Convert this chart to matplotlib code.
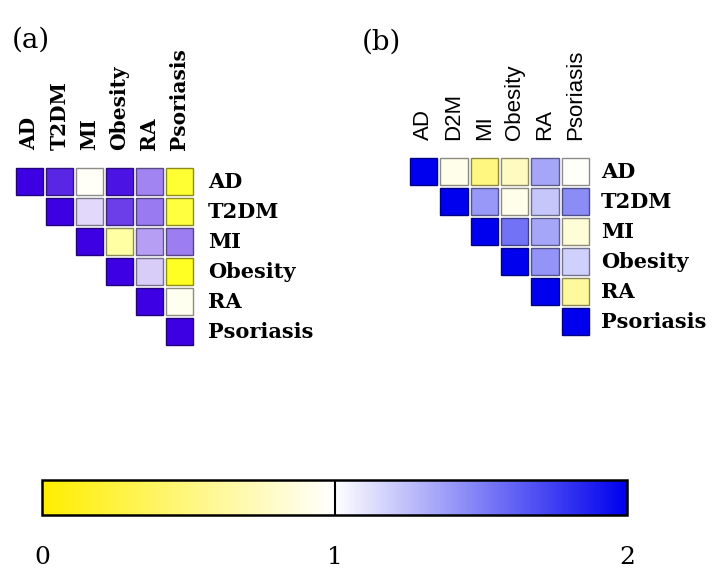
import numpy as np
import matplotlib
matplotlib.use('Agg')
import matplotlib.pyplot as plt
from matplotlib.colors import LinearSegmentedColormap, Normalize, to_rgb
from matplotlib.patches import Rectangle

nan = np.nan

# disease labels
rows_a = ['AD', 'T2DM', 'MI', 'Obesity', 'RA', 'Psoriasis']
cols_a = ['AD', 'T2DM', 'MI', 'Obesity', 'RA', 'Psoriasis']
rows_b = ['AD', 'T2DM', 'MI', 'Obesity', 'RA', 'Psoriasis']
cols_b = ['AD', 'D2M', 'MI', 'Obesity', 'RA', 'Psoriasis']

# upper triangle values (0..2 scale)
vals_a = [
    [2.00, 1.85, 0.97, 1.92, 1.48, 0.15],
    [nan, 2.00, 1.15, 1.75, 1.52, 0.20],
    [nan, nan, 2.00, 0.62, 1.38, 1.50],
    [nan, nan, nan, 2.00, 1.20, 0.08],
    [nan, nan, nan, nan, 2.00, 0.93],
    [nan, nan, nan, nan, nan, 2.00],
]
vals_b = [
    [2.00, 0.92, 0.50, 0.75, 1.35, 0.98],
    [nan, 2.00, 1.40, 0.92, 1.22, 1.45],
    [nan, nan, 2.00, 1.55, 1.35, 0.85],
    [nan, nan, nan, 2.00, 1.42, 1.18],
    [nan, nan, nan, nan, 2.00, 0.62],
    [nan, nan, nan, nan, nan, 2.00],
]
cbar_ticks = [0, 1, 2]

cmap_a = LinearSegmentedColormap.from_list('ya', ['#ffff10', '#ffffff', '#3c00e2'])
cmap_b = LinearSegmentedColormap.from_list('yb', ['#ffee00', '#ffffff', '#0000ee'])
norm = Normalize(0, 2)

W, H = 720, 578
fig = plt.figure(figsize=(W / 100, H / 100), dpi=100)


def px_axes(left, top, width, height):
    return fig.add_axes([left / W, 1 - (top + height) / H, width / W, height / H])


def draw_tri(ax, vals, rows, cols, cmap, col_font, pad):
    vals = np.array(vals)
    n = len(rows)
    for i in range(n):
        for j in range(n):
            v = vals[i, j]
            if np.isnan(v):
                continue
            c = np.array(to_rgb(cmap(norm(v))))
            ec = c * 0.55
            ax.add_patch(Rectangle((j + 0.05, i + 0.05), 0.9, 0.9, facecolor=c,
                                   edgecolor=ec, linewidth=1.0))
    ax.set_xlim(0, n)
    ax.set_ylim(n, 0)
    ax.axis('off')
    for i, r in enumerate(rows):
        ax.text(n + pad, i + 0.5, r, ha='left', va='center', fontsize=15,
                fontweight='bold', family='DejaVu Serif')
    for j, c in enumerate(cols):
        ax.text(j + 0.5, -0.55, c, ha='center', va='bottom', rotation=90, **col_font)


ax_a = px_axes(14.5, 166.5, 180, 180)
draw_tri(ax_a, vals_a, rows_a, cols_a, cmap_a,
         dict(fontsize=14.5, fontweight='bold', family='DejaVu Serif'), 0.45)

ax_b = px_axes(408.5, 156.5, 182, 180)
draw_tri(ax_b, vals_b, rows_b, cols_b, cmap_b,
         dict(fontsize=16, family='Liberation Sans'), 0.35)

fig.text(12 / W, 1 - 40 / H, '(a)', fontsize=20, family='DejaVu Serif', va='center')
fig.text(362 / W, 1 - 42 / H, '(b)', fontsize=20, family='DejaVu Serif', va='center')

# colorbar
cax = px_axes(42, 480, 585, 35)
sm = plt.cm.ScalarMappable(norm=norm, cmap=cmap_b)
cb = fig.colorbar(sm, cax=cax, orientation='horizontal', ticks=cbar_ticks)
cb.outline.set_linewidth(1.8)
cax.axvline(1, color='black', linewidth=1.5)
cax.tick_params(length=0, pad=22, labelsize=18)
for t in cax.get_xticklabels():
    t.set_family('DejaVu Serif')

fig.savefig('out.png', dpi=100)
